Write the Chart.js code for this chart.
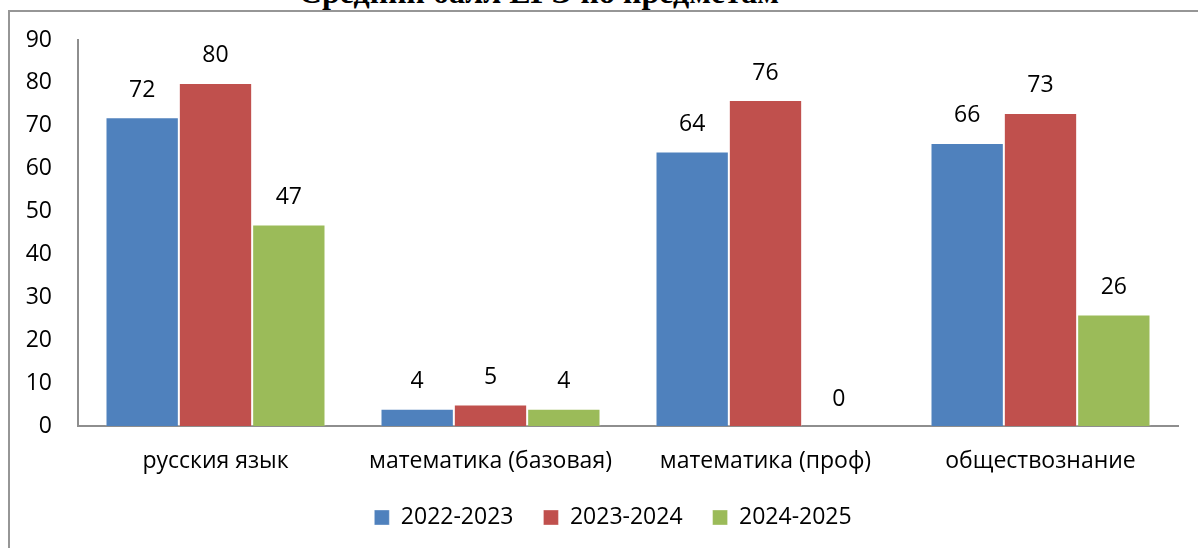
<!DOCTYPE html>
<html>
<head>
<meta charset="utf-8">
<script src="https://cdn.jsdelivr.net/npm/chart.js@4"></script>
<style>
  html, body { margin: 0; padding: 0; background: #fff; overflow: hidden; }
  #frame {
    position: absolute; left: 8px; top: 10px; width: 1300px; height: 700px;
    border-top: 2px solid #969696; border-left: 2px solid #969696;
  }
  #title {
    position: absolute; left: 0; width: 1078px; top: -24px; text-align: center;
    font-family: "Liberation Serif", "Times New Roman", serif; font-weight: bold;
    font-size: 32px; line-height: 32px; color: #000; white-space: nowrap;
  }
  #wrap { position: absolute; left: 0; top: 0; width: 1198px; height: 548px; }
</style>
</head>
<body>
<div id="frame"></div>
<div id="title">Средний балл ЕГЭ по предметам</div>
<div id="wrap"><canvas id="chart"></canvas></div>
<script>
// Предметы и годы
const subjects = ["русския язык", "математика (базовая)", "математика (проф)", "обществознание"];
const years = ["2022-2023", "2023-2024", "2024-2025"];

// Средний балл по годам
const scores2022 = [72, 4, 64, 66];
const scores2023 = [80, 5, 76, 73];
const scores2024 = [47, 4, 0, 26];

const yTicks = [0, 10, 20, 30, 40, 50, 60, 70, 80, 90];

const font = "'Open Sans', 'Noto Sans', sans-serif";

// подписи значений над столбцами
const valueLabels = {
  id: "valueLabels",
  afterDatasetsDraw(chart) {
    const ctx = chart.ctx;
    ctx.save();
    ctx.font = "23px " + font;
    ctx.fillStyle = "#000";
    ctx.textAlign = "center";
    ctx.textBaseline = "middle";
    chart.data.datasets.forEach((ds, i) => {
      chart.getDatasetMeta(i).data.forEach((bar, j) => {
        ctx.fillText(ds.data[j], bar.x, bar.y - 27);
      });
    });
    ctx.restore();
  }
};

// легенда в оригинале чуть правее центра
const legendShift = {
  id: "legendShift",
  afterLayout(chart) {
    if (chart.legend) {
      chart.legend.left += 24;
      chart.legend.right += 24;
    }
  }
};

const ctx = document.getElementById("chart").getContext("2d");
new Chart(ctx, {
  type: "bar",
  data: {
    labels: subjects,
    datasets: [
      { label: years[0], data: scores2022, backgroundColor: "#4F81BD" },
      { label: years[1], data: scores2023, backgroundColor: "#C0504D" },
      { label: years[2], data: scores2024, backgroundColor: "#9BBB59" },
    ].map(d => Object.assign(d, {
      borderColor: "rgba(255,255,255,0.35)",
      borderWidth: 1,
      categoryPercentage: 0.8,
      barPercentage: 1.0,
    })),
  },
  options: {
    responsive: true,
    maintainAspectRatio: false,
    animation: false,
    layout: { padding: { left: 0, top: 40, right: 20, bottom: 9 } },
    plugins: {
      legend: {
        position: "bottom",
        labels: {
          font: { family: font, size: 23 },
          color: "#000",
          boxWidth: 15,
          boxHeight: 15,
          padding: 30,
        },
      },
      tooltip: { enabled: false },
    },
    scales: {
      x: {
        grid: { display: false, drawTicks: false },
        border: { display: true, color: "#8e8e8e", width: 2 },
        ticks: { font: { family: font, size: 23 }, color: "#000", padding: 22 },
        afterFit(axis) { axis.height = 50; },
      },
      y: {
        min: 0,
        max: 90,
        afterBuildTicks(axis) { axis.ticks = yTicks.map(v => ({ value: v })); },
        grid: { display: false, drawTicks: false },
        border: { display: true, color: "#8e8e8e", width: 2 },
        ticks: { font: { family: font, size: 23 }, color: "#000", padding: 26 },
        afterFit(axis) { axis.width = 78; },
      },
    },
  },
  plugins: [valueLabels, legendShift],
});
</script>
</body>
</html>
